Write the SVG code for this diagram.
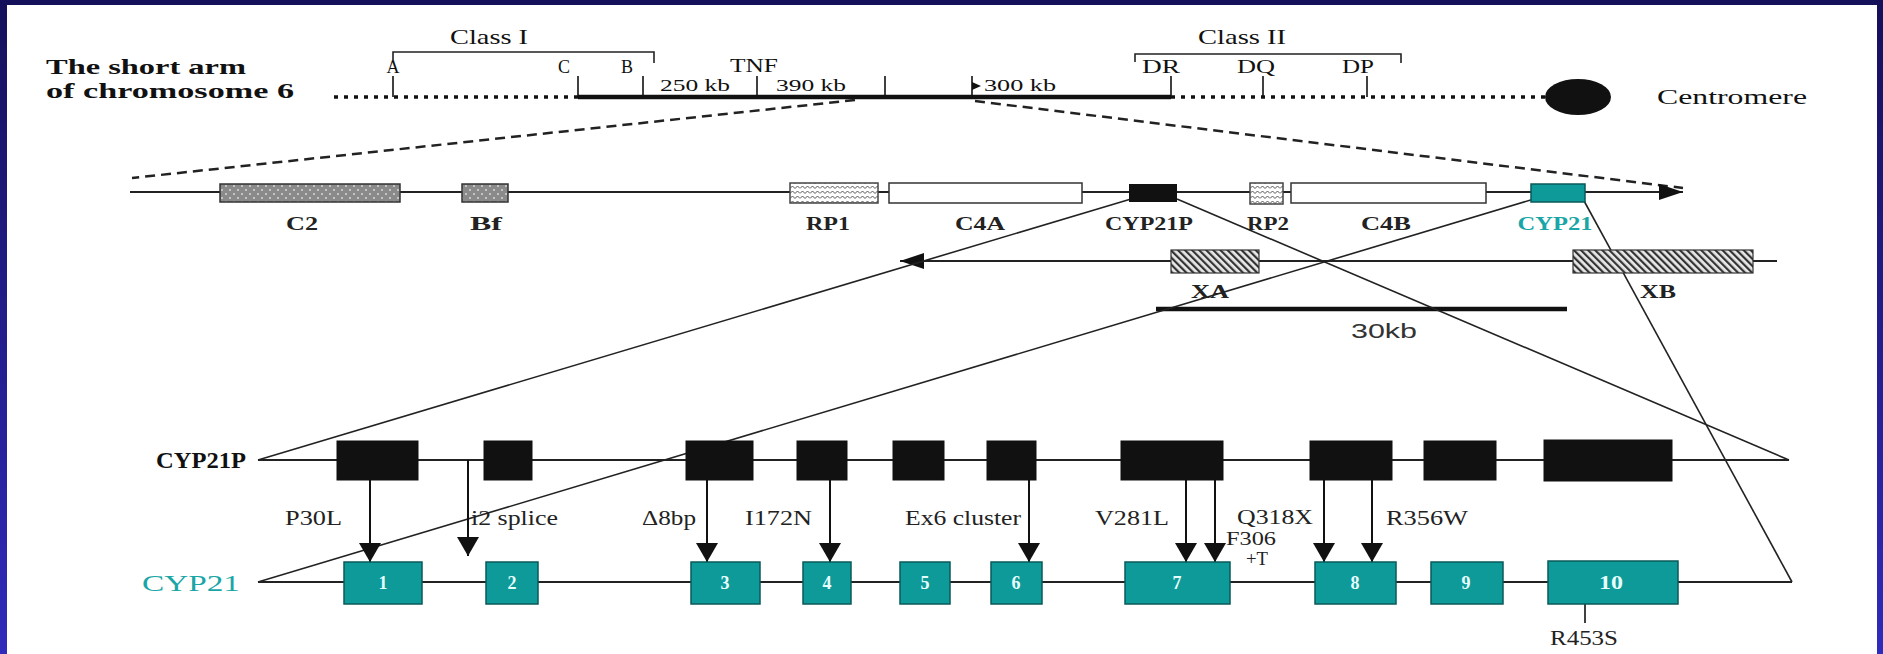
<svg xmlns="http://www.w3.org/2000/svg" width="1883" height="654" viewBox="0 0 1883 654">
<style>
.serif{font-family:"Liberation Serif","Times New Roman",serif;fill:#111}
.b{font-weight:bold}
.t18{font-size:18px}
.t17{font-size:17px}
.t22{font-size:22px}
.mut{font-family:"Liberation Serif","Times New Roman",serif;font-size:20px;fill:#222}
.gl{font-family:"Liberation Serif","Times New Roman",serif;font-size:18px;font-weight:bold;fill:#222;text-anchor:middle}
.num{font-family:"Liberation Serif","Times New Roman",serif;font-size:18px;font-weight:bold;fill:#e6ffff;text-anchor:middle}
.tick{stroke:#111;stroke-width:1.6}
.ln{stroke:#222;stroke-width:2;fill:none}
.thin{stroke:#222;stroke-width:1.6;fill:none}
.blk{fill:#111;stroke:#111}
.teal{fill:#0e9a98;stroke:#0a5a5a;stroke-width:1.5}
.arr{stroke:#111;stroke-width:2;marker-end:url(#ah)}
</style>
<defs>
<linearGradient id="bord" x1="0" y1="0" x2="0" y2="1">
<stop offset="0" stop-color="#15105a"/>
<stop offset="1" stop-color="#302bba"/>
</linearGradient>
<pattern id="stipple" width="8" height="8" patternUnits="userSpaceOnUse">
<rect width="8" height="8" fill="#8a8a8a"/>
<circle cx="2" cy="2" r="1" fill="#d6d6d6"/>
<circle cx="6" cy="6" r="1" fill="#d6d6d6"/>
</pattern>
<pattern id="wave" width="10" height="5" patternUnits="userSpaceOnUse">
<rect width="10" height="5" fill="#fff"/>
<path d="M0 3.5 L2.5 1 L5 3.5 L7.5 1 L10 3.5" stroke="#555" fill="none" stroke-width="1"/>
</pattern>
<pattern id="hatch" width="5" height="5" patternUnits="userSpaceOnUse" patternTransform="rotate(-45)">
<rect width="5" height="5" fill="#e8e8e8"/>
<line x1="1" y1="0" x2="1" y2="5" stroke="#333" stroke-width="2.4"/>
</pattern>
<marker id="ah" viewBox="0 0 19 22" refX="19" refY="11" markerWidth="19" markerHeight="22" markerUnits="userSpaceOnUse" orient="auto">
<path d="M0,0 L19,11 L0,22 z" fill="#111"/>
</marker>
<marker id="ah2" viewBox="0 0 24 16" refX="24" refY="8" markerWidth="24" markerHeight="16" markerUnits="userSpaceOnUse" orient="auto">
<path d="M0,0 L24,8 L0,16 z" fill="#111"/>
</marker>
</defs>

<rect width="1883" height="654" fill="#fff"/>
<rect x="0" y="0" width="7" height="654" fill="url(#bord)"/>
<rect x="1877" y="0" width="6" height="654" fill="url(#bord)"/>
<rect x="0" y="0" width="1883" height="5" fill="#15105a"/>

<g id="chromosome">
<text class="serif b t22" x="46" y="74" textLength="200" lengthAdjust="spacingAndGlyphs">The short arm</text>
<text class="serif b t22" x="46" y="98" textLength="248" lengthAdjust="spacingAndGlyphs">of chromosome 6</text>
<line x1="334" y1="97" x2="578" y2="97" stroke="#111" stroke-width="3.5" stroke-dasharray="4 6"/>
<line x1="1171" y1="97" x2="1548" y2="97" stroke="#111" stroke-width="3.5" stroke-dasharray="4 6"/>
<line x1="578" y1="97" x2="1171" y2="97" stroke="#111" stroke-width="4.5"/>
<ellipse cx="1578" cy="97" rx="33" ry="18" fill="#111"/>
<text class="serif t22" x="1657" y="104" textLength="150" lengthAdjust="spacingAndGlyphs">Centromere</text>
</g>

<g id="class-i">
<text class="serif t22" x="450" y="44" textLength="78" lengthAdjust="spacingAndGlyphs">Class I</text>
<path class="thin" d="M393 60 V52 H654 V63"/>
<text class="serif t18" x="393" y="73" text-anchor="middle">A</text>
<text class="serif t18" x="564" y="73" text-anchor="middle">C</text>
<text class="serif t18" x="627" y="73" text-anchor="middle">B</text>
<line class="tick" x1="393" y1="76" x2="393" y2="97"/>
<line class="tick" x1="578" y1="76" x2="578" y2="97"/>
<line class="tick" x1="643" y1="76" x2="643" y2="97"/>
</g>

<g id="tnf">
<text class="serif" x="730" y="72" style="font-size:19px" textLength="48" lengthAdjust="spacingAndGlyphs">TNF</text>
<text class="serif t17" x="660" y="91" textLength="70" lengthAdjust="spacingAndGlyphs">250 kb</text>
<text class="serif t17" x="776" y="91" textLength="70" lengthAdjust="spacingAndGlyphs">390 kb</text>
<line class="tick" x1="757" y1="76" x2="757" y2="97"/>
<line class="tick" x1="885" y1="76" x2="885" y2="97"/>
<line class="tick" x1="972" y1="76" x2="972" y2="97"/>
<path d="M972 82 L981 86 L972 90 z" fill="#111"/>
<text class="serif t17" x="984" y="91" textLength="72" lengthAdjust="spacingAndGlyphs">300 kb</text>
</g>

<g id="class-ii">
<text class="serif t22" x="1198" y="44" textLength="88" lengthAdjust="spacingAndGlyphs">Class II</text>
<path class="thin" d="M1135 62 V54 H1401 V63"/>
<text class="serif t18" x="1142" y="73" textLength="38" lengthAdjust="spacingAndGlyphs">DR</text>
<text class="serif t18" x="1237" y="73" textLength="38" lengthAdjust="spacingAndGlyphs">DQ</text>
<text class="serif t18" x="1342" y="73" textLength="32" lengthAdjust="spacingAndGlyphs">DP</text>
<line class="tick" x1="1171" y1="76" x2="1171" y2="97"/>
<line class="tick" x1="1263" y1="76" x2="1263" y2="97"/>
<line class="tick" x1="1367" y1="76" x2="1367" y2="97"/>
</g>

<g id="connectors">
<line x1="855" y1="100" x2="132" y2="178" stroke="#222" stroke-width="2.5" stroke-dasharray="10 6"/>
<line x1="975" y1="101" x2="1683" y2="188" stroke="#222" stroke-width="2.5" stroke-dasharray="10 6"/>
<line class="ln" x1="130" y1="192" x2="1683" y2="192" marker-end="url(#ah2)"/>
<line class="ln" x1="1777" y1="261" x2="900" y2="261" marker-end="url(#ah2)"/>
<line x1="1156" y1="309" x2="1567" y2="309" stroke="#111" stroke-width="4.5"/>
<line class="thin" x1="1131" y1="199" x2="258" y2="460"/>
<line class="thin" x1="1177" y1="199" x2="1789" y2="460"/>
<line class="thin" x1="1534" y1="199" x2="258" y2="582"/>
<line class="thin" x1="1583" y1="199" x2="1792" y2="582"/>
<line class="ln" x1="258" y1="460" x2="1789" y2="460"/>
<line class="ln" x1="258" y1="582" x2="1792" y2="582"/>
<line class="arr" x1="370" y1="480" x2="370" y2="562"/>
<line class="arr" x1="468" y1="460" x2="468" y2="556"/>
<line class="arr" x1="707" y1="480" x2="707" y2="562"/>
<line class="arr" x1="830" y1="480" x2="830" y2="562"/>
<line class="arr" x1="1029" y1="480" x2="1029" y2="562"/>
<line class="arr" x1="1186" y1="480" x2="1186" y2="562"/>
<line class="arr" x1="1215" y1="480" x2="1215" y2="562"/>
<line class="arr" x1="1324" y1="480" x2="1324" y2="562"/>
<line class="arr" x1="1372" y1="480" x2="1372" y2="562"/>
<line class="tick" x1="1585" y1="604" x2="1585" y2="623"/>
</g>

<g id="C2"><rect x="220" y="184" width="180" height="18" fill="url(#stipple)" stroke="#333" stroke-width="1.5"/><text class="gl" x="302" y="230" textLength="32" lengthAdjust="spacingAndGlyphs">C2</text></g>
<g id="Bf"><rect x="462" y="184" width="46" height="18" fill="url(#stipple)" stroke="#333" stroke-width="1.5"/><text class="gl" x="486" y="230" textLength="32" lengthAdjust="spacingAndGlyphs">Bf</text></g>
<g id="RP1"><rect x="790" y="183" width="88" height="20" fill="url(#wave)" stroke="#444" stroke-width="1.5"/><text class="gl" x="828" y="230" textLength="44" lengthAdjust="spacingAndGlyphs">RP1</text></g>
<g id="C4A"><rect x="889" y="183" width="193" height="20" fill="#fff" stroke="#333" stroke-width="1.5"/><text class="gl" x="980" y="230" textLength="50" lengthAdjust="spacingAndGlyphs">C4A</text></g>
<g id="CYP21P-gene"><rect x="1129" y="184" width="48" height="18" fill="#111"/><text class="gl" x="1149" y="230" textLength="88" lengthAdjust="spacingAndGlyphs">CYP21P</text></g>
<g id="RP2"><rect x="1250" y="183" width="33" height="21" fill="url(#wave)" stroke="#444" stroke-width="1.5"/><text class="gl" x="1268" y="230" textLength="42" lengthAdjust="spacingAndGlyphs">RP2</text></g>
<g id="C4B"><rect x="1291" y="183" width="195" height="20" fill="#fff" stroke="#333" stroke-width="1.5"/><text class="gl" x="1386" y="230" textLength="50" lengthAdjust="spacingAndGlyphs">C4B</text></g>
<g id="CYP21-gene"><rect x="1531" y="184" width="54" height="18" class="teal"/><text class="gl" x="1555" y="230" style="fill:#1aa6a6" textLength="75" lengthAdjust="spacingAndGlyphs">CYP21</text></g>
<g id="XA"><rect x="1171" y="250" width="88" height="23" fill="url(#hatch)" stroke="#333" stroke-width="1.2"/><text class="gl" x="1210" y="298" textLength="38" lengthAdjust="spacingAndGlyphs">XA</text></g>
<g id="XB"><rect x="1573" y="250" width="180" height="23" fill="url(#hatch)" stroke="#333" stroke-width="1.2"/><text class="gl" x="1658" y="298" textLength="36" lengthAdjust="spacingAndGlyphs">XB</text></g>
<g id="scale"><text x="1384" y="338" text-anchor="middle" style="font-family:'Liberation Sans',Arial,sans-serif;font-size:20px;fill:#333" textLength="66" lengthAdjust="spacingAndGlyphs">30kb</text></g>

<g id="CYP21P-row">
<text class="serif b" x="156" y="468" style="font-size:23px" textLength="90" lengthAdjust="spacingAndGlyphs">CYP21P</text>
<rect class="blk" x="337" y="441" width="81" height="39"/>
<rect class="blk" x="484" y="441" width="48" height="39"/>
<rect class="blk" x="686" y="441" width="67" height="39"/>
<rect class="blk" x="797" y="441" width="50" height="39"/>
<rect class="blk" x="893" y="441" width="51" height="39"/>
<rect class="blk" x="987" y="441" width="49" height="39"/>
<rect class="blk" x="1121" y="441" width="102" height="39"/>
<rect class="blk" x="1310" y="441" width="82" height="39"/>
<rect class="blk" x="1424" y="441" width="72" height="39"/>
<rect class="blk" x="1544" y="440" width="128" height="41"/>
</g>

<g id="CYP21-row">
<text class="serif" x="142" y="591" style="font-size:24px;fill:#1aa6a6" textLength="98" lengthAdjust="spacingAndGlyphs">CYP21</text>
<rect class="teal" x="344" y="562" width="78" height="42"/><text class="num" x="383" y="589">1</text>
<rect class="teal" x="486" y="562" width="52" height="42"/><text class="num" x="512" y="589">2</text>
<rect class="teal" x="691" y="562" width="69" height="42"/><text class="num" x="725" y="589">3</text>
<rect class="teal" x="803" y="562" width="48" height="42"/><text class="num" x="827" y="589">4</text>
<rect class="teal" x="900" y="562" width="50" height="42"/><text class="num" x="925" y="589">5</text>
<rect class="teal" x="991" y="562" width="51" height="42"/><text class="num" x="1016" y="589">6</text>
<rect class="teal" x="1125" y="562" width="105" height="42"/><text class="num" x="1177" y="589">7</text>
<rect class="teal" x="1315" y="562" width="81" height="42"/><text class="num" x="1355" y="589">8</text>
<rect class="teal" x="1431" y="562" width="72" height="42"/><text class="num" x="1466" y="589">9</text>
<rect class="teal" x="1548" y="561" width="130" height="43"/><text class="num" x="1611" y="589" textLength="24" lengthAdjust="spacingAndGlyphs">10</text>
</g>

<g id="mutations">
<text class="mut" x="285" y="525" textLength="57" lengthAdjust="spacingAndGlyphs">P30L</text>
<text class="mut" x="471" y="525" textLength="87" lengthAdjust="spacingAndGlyphs">i2 splice</text>
<text class="mut" x="642" y="525" textLength="54" lengthAdjust="spacingAndGlyphs">Δ8bp</text>
<text class="mut" x="745" y="525" textLength="67" lengthAdjust="spacingAndGlyphs">I172N</text>
<text class="mut" x="905" y="525" textLength="116" lengthAdjust="spacingAndGlyphs">Ex6 cluster</text>
<text class="mut" x="1095" y="525" textLength="74" lengthAdjust="spacingAndGlyphs">V281L</text>
<text class="mut" x="1237" y="524" textLength="76" lengthAdjust="spacingAndGlyphs">Q318X</text>
<text class="mut" x="1226" y="545" style="font-size:18px" textLength="50" lengthAdjust="spacingAndGlyphs">F306</text>
<text class="mut" x="1246" y="565" style="font-size:18px" textLength="22" lengthAdjust="spacingAndGlyphs">+T</text>
<text class="mut" x="1386" y="525" textLength="82" lengthAdjust="spacingAndGlyphs">R356W</text>
<text class="mut" x="1550" y="645" textLength="68" lengthAdjust="spacingAndGlyphs">R453S</text>
</g>
</svg>
